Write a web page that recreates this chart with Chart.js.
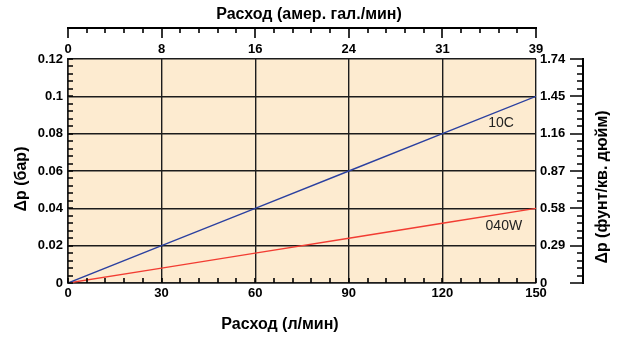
<!DOCTYPE html>
<html>
<head>
  <meta charset="UTF-8">
  <title>Расход / Δp</title>
  <style type="text/css">
    body { margin: 0; background: #fff; }
  </style>
  <script type="text/javascript" src="https://cdn.jsdelivr.net/npm/chart.js@4.4.0/dist/chart.umd.min.js"></script>
</head>
<body>
<canvas id="mycanvas" width="617" height="338"></canvas>
<script>
// data
var flowLpm = [0, 30, 60, 90, 120, 150];
var dp10C = [0, 0.02, 0.04, 0.06, 0.08, 0.1];
var dp040W = [0, 0.008, 0.016, 0.024, 0.032, 0.04];

var leftTicks = ['0', '0.02', '0.04', '0.06', '0.08', '0.1', '0.12'];
var rightTicks = ['0', '0.29', '0.58', '0.87', '1.16', '1.45', '1.74'];
var topTicks = ['0', '8', '16', '24', '31', '39'];

var titleBottom = 'Расход (л/мин)';
var titleTop = 'Расход (амер. гал./мин)';
var titleLeft = 'Δp (бар)';
var titleRight = 'Δp (фунт/кв. дюйм)';

// series names, placed next to their lines (data units)
var seriesNames = ['10C', '040W'];
var namePos = [[138.8, 0.0857], [139.7, 0.0305]];

var GRID = '#1c1c1c';
var tickFont = { family: 'Liberation Sans, Arial, sans-serif', size: 13, weight: 'bold' };
var titleFont = 'bold 16px "Liberation Sans", Arial, sans-serif';

function pts(xs, ys) {
  var out = [];
  for (var i = 0; i < xs.length; i++) out.push({ x: xs[i], y: ys[i] });
  return out;
}

var decor = {
  id: 'decor',
  afterDraw: function(chart) {
    var c = chart.ctx, a = chart.chartArea, s = chart.scales;
    var i, p, len;
    c.save();
    c.strokeStyle = '#000';
    c.lineCap = 'butt';
    // detached axis lines
    var ty = Math.round(a.top) - 31;
    var rx = Math.round(a.right) + 47;
    c.lineWidth = 2;
    c.beginPath();
    c.moveTo(a.left - 1, ty); c.lineTo(a.right + 1, ty);
    c.moveTo(rx, a.top - 1); c.lineTo(rx, a.bottom + 1);
    c.stroke();
    // tick marks
    c.lineWidth = 1.6;
    c.beginPath();
    for (i = 0; i <= 25; i++) {
      p = Math.round(s.x2.getPixelForValue(i * 6));
      len = i % 5 === 0 ? 10 : 5;
      c.moveTo(p, ty); c.lineTo(p, ty + len);
      p = Math.round(s.x.getPixelForValue(i * 6));
      c.moveTo(p, a.bottom); c.lineTo(p, a.bottom - 5);
    }
    for (i = 0; i <= 30; i++) {
      p = Math.round(s.y2.getPixelForValue(i * 0.004));
      len = i % 5 === 0 ? 13 : 6;
      c.moveTo(rx, p); c.lineTo(rx - len, p);
      p = Math.round(s.y.getPixelForValue(i * 0.004));
      c.moveTo(a.left, p); c.lineTo(a.left + 5, p);
    }
    c.stroke();

    // series names
    c.fillStyle = '#222';
    c.font = '14px "Liberation Sans", Arial, sans-serif';
    c.textAlign = 'center';
    c.textBaseline = 'middle';
    for (i = 0; i < seriesNames.length; i++) {
      c.fillText(seriesNames[i], s.x.getPixelForValue(namePos[i][0]), s.y.getPixelForValue(namePos[i][1]));
    }

    // axis titles
    c.fillStyle = '#000';
    c.font = titleFont;
    var cx = (a.left + a.right) / 2, cy = (a.top + a.bottom) / 2;
    c.fillText(titleTop, cx + 7, 15);
    c.fillText(titleBottom, cx - 22, 325);
    c.save();
    c.translate(22, cy + 8);
    c.rotate(-Math.PI / 2);
    c.fillText(titleLeft, 0, 0);
    c.restore();
    c.save();
    c.translate(603, cy + 16);
    c.rotate(-Math.PI / 2);
    c.fillText(titleRight, 0, 0);
    c.restore();
    c.restore();
  }
};

var plotBg = {
  id: 'plotBg',
  beforeDraw: function(chart) {
    var a = chart.chartArea, c = chart.ctx;
    c.save();
    c.fillStyle = '#fdebd0';
    c.fillRect(a.left, a.top, a.right - a.left, a.bottom - a.top);
    c.restore();
  }
};

var chart = new Chart(document.getElementById('mycanvas'), {
  type: 'scatter',
  data: {
    datasets: [
      { label: seriesNames[0], data: pts(flowLpm, dp10C), showLine: true, borderColor: '#2b40a0', borderWidth: 1.4, pointRadius: 0 },
      { label: seriesNames[1], data: pts(flowLpm, dp040W), showLine: true, borderColor: '#f23c32', borderWidth: 1.4, pointRadius: 0 }
    ]
  },
  options: {
    responsive: false,
    animation: false,
    plugins: { legend: { display: false }, tooltip: { enabled: false } },
    scales: {
      x: {
        type: 'linear', position: 'bottom', min: 0, max: 150,
        ticks: { stepSize: 30, color: '#000', font: tickFont, padding: 3, maxRotation: 0 },
        grid: { color: GRID, lineWidth: 1.4, drawTicks: false },
        border: { display: true, color: GRID, width: 1.6 },
        afterFit: function(sc) { sc.height = 55; }
      },
      y: {
        type: 'linear', position: 'left', min: 0, max: 0.12,
        ticks: { stepSize: 0.02, color: '#000', font: tickFont, padding: 5,
          callback: function(val, i) { return leftTicks[i]; } },
        grid: { color: GRID, lineWidth: 1.4, drawTicks: false },
        border: { display: true, color: GRID, width: 1.6 },
        afterFit: function(sc) { sc.width = 68; }
      },
      x2: {
        type: 'linear', position: 'top', min: 0, max: 150,
        ticks: { stepSize: 30, color: '#000', font: tickFont, padding: 2, maxRotation: 0,
          callback: function(val, i) { return topTicks[i]; } },
        grid: { drawOnChartArea: false, drawTicks: false },
        border: { display: false },
        afterFit: function(sc) { sc.height = 59; }
      },
      y2: {
        type: 'linear', position: 'right', min: 0, max: 0.12,
        ticks: { stepSize: 0.02, color: '#000', font: tickFont, padding: 4,
          callback: function(val, i) { return rightTicks[i]; } },
        grid: { drawOnChartArea: false, drawTicks: false },
        border: { display: false },
        afterFit: function(sc) { sc.width = 81; }
      }
    }
  },
  plugins: [plotBg, decor]
});
</script>
</body>
</html>
